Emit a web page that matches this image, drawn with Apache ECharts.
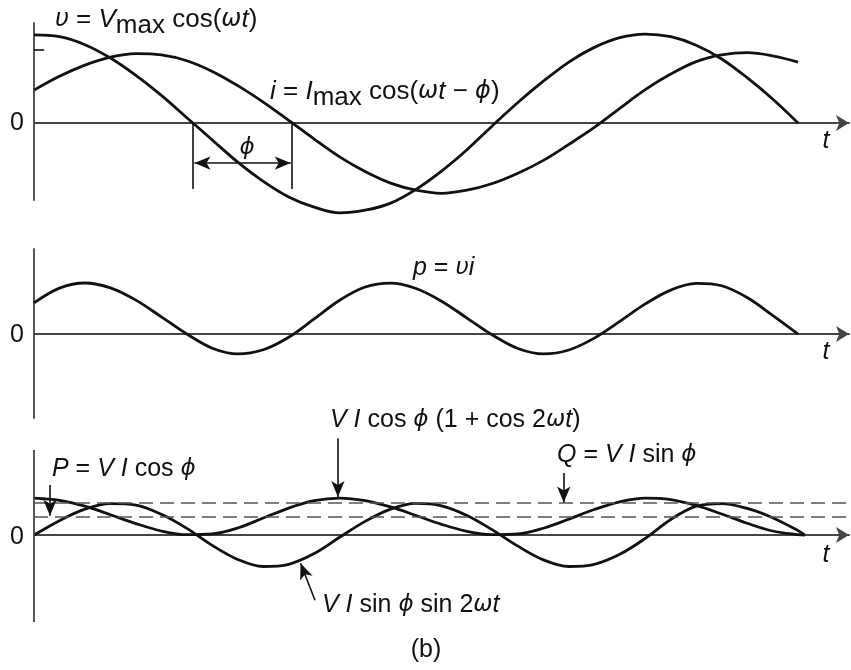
<!DOCTYPE html>
<html>
<head>
<meta charset="utf-8">
<script src="https://cdn.jsdelivr.net/npm/echarts@6/dist/echarts.min.js"></script>
<style>
  html, body { margin: 0; padding: 0; background: #fff; }
  #main { width: 851px; height: 670px; }
</style>
</head>
<body>
<div id="main"></div>
<script>
// x values are ωt in degrees
const tStep = [0, 15, 30, 45, 60, 75, 90, 105, 120, 135, 150, 165, 180, 195, 210, 225, 240, 255, 270, 285, 300, 315, 330, 345, 360, 375, 390, 405, 420, 435, 450];
const vData = [9.9, 9.7, 8.8, 7.3, 5.35, 3.1, 0.6, -1.9, -4.4, -6.55, -8.3, -9.45, -10.1, -9.8, -9.0, -7.45, -5.4, -3.0, -0.3, 2.3, 4.7, 6.85, 8.5, 9.6, 10.0, 9.7, 8.75, 7.2, 5.1, 2.7, 0];
const iData = [3.7, 5.25, 6.5, 7.4, 7.8, 7.65, 7.0, 5.8, 4.2, 2.35, 0.3, -1.8, -3.8, -5.45, -6.75, -7.55, -7.9, -7.55, -6.8, -5.65, -4.2, -2.4, -0.5, 1.65, 3.75, 5.5, 6.9, 7.65, 7.9, 7.55, 6.85];

const pData = [6.1, 9.0, 10.0, 9.04, 6.64, 3.36, 0, -2.78, -3.9, -3.09, -0.63, 2.97, 6.63, 9.22, 9.98, 8.92, 6.44, 3.13, -0.2, -2.84, -3.9, -3.13, -0.81, 2.47, 5.9, 8.61, 9.93, 9.46, 7.15, 3.67, 0];

const tBot = [0, 15, 30, 45, 60, 75, 90, 105, 120, 135, 150, 165, 180, 195, 210, 225, 240, 255, 270, 285, 300, 315, 330, 345, 360, 375, 390, 405, 420, 435, 450, 454];
const pcData = [10, 9.4, 7.8, 5.5, 3.1, 1.1, 0.1, 0.3, 1.9, 4.6, 7.3, 9.3, 10.0, 9.3, 7.6, 5.3, 2.9, 1.0, 0.1, 0.3, 1.85, 4.3, 6.9, 9.0, 10.0, 9.6, 8.0, 5.7, 3.2, 1.1, 0.1, 0];
const qsData = [0, 3.9, 7.0, 8.5, 8.1, 5.6, 1.8, -2.8, -6.6, -8.5, -7.9, -5.0, -0.6, 3.7, 7.0, 8.55, 7.9, 5.3, 1.4, -3.0, -6.7, -8.5, -7.9, -5.2, -0.9, 4.2, 7.8, 8.5, 7.2, 4.7, 1.2, 0];

const pLevel = 5;     // P = VI cos phi
const qLevel = 8.6;   // Q = VI sin phi
const imaxTick = 8.2;
const phiStart = 93.7, phiEnd = 152;
const bottomAxis = [-23.5, 22.97];   // drawn extent of the lower vertical axis

const pair = (xs, ys) => xs.map((x, k) => [x, ys[k]]);

const ink = '#111';
const axisColor = '#444';

const chart = echarts.init(document.getElementById('main'));

function xAx(idx) {
  return {
    type: 'value', gridIndex: idx, min: 0, max: 480,
    axisLine: { show: true, onZero: true, symbol: ['none', 'arrow'], symbolSize: [12, 13],
      lineStyle: { color: axisColor, width: 1.8 } },
    axisTick: { show: false }, axisLabel: { show: false }, splitLine: { show: false }
  };
}
function yAx(idx, min, max, showLine) {
  return {
    type: 'value', gridIndex: idx, min: min, max: max,
    axisLine: { show: showLine, onZero: false, lineStyle: { color: axisColor, width: 1.8 } },
    axisTick: { show: false }, axisLabel: { show: false }, splitLine: { show: false }
  };
}
function curve(name, idx, data, markLine) {
  const s = {
    name: name, type: 'line', xAxisIndex: idx, yAxisIndex: idx,
    data: data, smooth: 0.35, symbol: 'none', clip: false,
    lineStyle: { color: ink, width: 2.8 }
  };
  if (markLine) s.markLine = markLine;
  return s;
}
function arrowLine(from, to, both) {
  return [
    { coord: from, symbol: both ? 'arrow' : 'none', symbolSize: [10, 16] },
    { coord: to, symbol: 'arrow', symbolSize: [10, 16] }
  ];
}
const plainLine = (from, to) => [{ coord: from, symbol: 'none' }, { coord: to, symbol: 'none' }];
const dashLine = (y) => [
  { coord: [0, y], symbol: 'none', lineStyle: { type: [14, 7], color: '#555', width: 1.6 } },
  { coord: [480, y], symbol: 'none' }
];

const rich = {
  it: { fontFamily: 'Liberation Sans', fontStyle: 'italic', fontSize: 25, fill: ink },
  n: { fontFamily: 'Liberation Sans', fontSize: 25, fill: ink },
  gk: { fontFamily: 'DejaVu Sans', fontStyle: 'italic', fontSize: 23, fill: ink },
  it2: { fontFamily: 'Liberation Sans', fontStyle: 'italic', fontSize: 26, fill: ink },
  n2: { fontFamily: 'Liberation Sans', fontSize: 26, fill: ink },
  sub: { fontFamily: 'Liberation Sans', fontSize: 26, fill: ink, padding: [12, 0, 0, 0] },
  gk2: { fontFamily: 'DejaVu Sans', fontStyle: 'italic', fontSize: 24, fill: ink }
};
function label(x, y, text, size, align) {
  return {
    type: 'text', x: x, y: y, silent: true,
    style: { text: text, rich: rich, fill: ink, fontFamily: 'Liberation Sans', fontSize: size || 25,
      align: align || 'left', verticalAlign: 'middle' }
  };
}

const option = {
  animation: false,
  backgroundColor: '#fff',
  grid: [
    { left: 34, right: 2, top: 23, height: 177 },
    { left: 34, right: 2, top: 249, height: 169 },
    { left: 34, right: 2, top: 430, height: 192 }
  ],
  xAxis: [xAx(0), xAx(1), xAx(2)],
  yAxis: [yAx(0, -8.65, 11.24, true), yAx(1, -16.47, 16.67, true), yAx(2, -23.5, 28.4, false)],
  series: [
    curve('v', 0, pair(tStep, vData), {
      silent: true, label: { show: false }, symbol: 'none',
      lineStyle: { color: ink, width: 1.6, type: 'solid' },
      data: [
        plainLine([0, imaxTick], [6, imaxTick]),
        plainLine([phiStart, 0], [phiStart, -7.4]),
        plainLine([phiEnd, 0], [phiEnd, -7.4]),
        arrowLine([phiStart + 0.8, -4.5], [phiEnd - 0.8, -4.5], true)
      ]
    }),
    curve('i', 0, pair(tStep, iData)),
    curve('p', 1, pair(tStep, pData)),
    curve('pc', 2, pair(tBot, pcData), {
      silent: true, label: { show: false }, symbol: 'none',
      lineStyle: { color: ink, width: 1.6, type: 'solid' },
      data: [
        [{ coord: [0, bottomAxis[0]], symbol: 'none', lineStyle: { color: axisColor, width: 1.8 } },
         { coord: [0, bottomAxis[1]], symbol: 'none' }],
        dashLine(pLevel),
        dashLine(qLevel),
        arrowLine([9.4, 13.5], [9.4, 5.2]),
        arrowLine([179, 26.2], [179, 10.3]),
        arrowLine([312, 16.8], [312, 8.8]),
        arrowLine([165.5, -17.6], [157, -7.6])
      ]
    }),
    curve('qs', 2, pair(tBot, qsData))
  ],
  graphic: [
    label(55, 20, '{gk2|υ} {n2|=} {it2|V}{sub|max}{n2| cos(}{gk2|ω}{it2|t}{n2|)}', 26),
    label(270, 92, '{it2|i} {n2|=} {it2|I}{sub|max}{n2| cos(}{gk2|ω}{it2|t}{n2| − }{gk2|ϕ}{n2|)}', 26),
    label(247, 148, '{gk|ϕ}', 25, 'center'),
    label(413, 268, '{it|p} {n|=} {gk|υ}{it|i}'),
    label(330, 420, '{it|V I} {n|cos} {gk|ϕ} {n|(1 + cos 2}{gk|ω}{it|t}{n|)}'),
    label(52, 469, '{it|P} {n|=} {it|V I} {n|cos} {gk|ϕ}'),
    label(557, 455, '{it|Q} {n|=} {it|V I} {n|sin} {gk|ϕ}'),
    label(322, 605, '{it|V I} {n|sin} {gk|ϕ} {n|sin 2}{gk|ω}{it|t}'),
    label(426, 650, '{n|(b)}', 25, 'center'),
    label(17, 123, '{n|0}', 22, 'center'),
    label(17, 335, '{n|0}', 22, 'center'),
    label(17, 537, '{n|0}', 22, 'center'),
    label(826, 141, '{it|t}', 25, 'center'),
    label(826, 352, '{it|t}', 25, 'center'),
    label(826, 555, '{it|t}', 25, 'center')
  ]
};

chart.setOption(option);
</script>
</body>
</html>
